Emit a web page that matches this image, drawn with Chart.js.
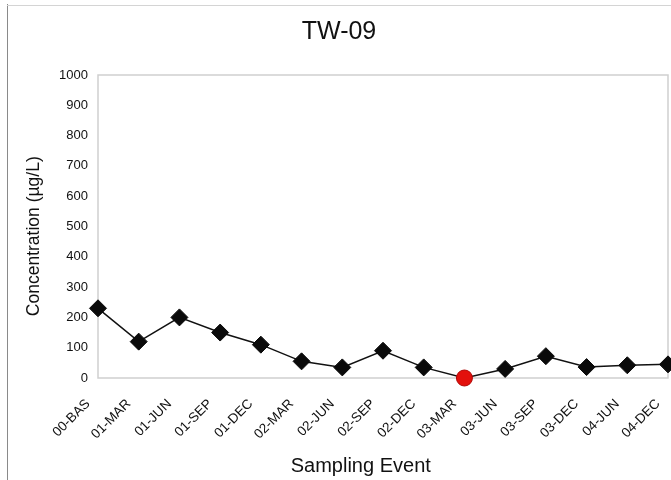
<!DOCTYPE html>
<html>
<head>
<meta charset="utf-8">
<script src="https://cdn.jsdelivr.net/npm/chart.js@4.4.1/dist/chart.umd.min.js"></script>
<style>
  html, body { margin: 0; padding: 0; background: #ffffff; }
  canvas { display: block; }
</style>
</head>
<body>
<canvas id="chart" width="671" height="480"></canvas>
<script>
// Sampling events and measured concentrations (µg/L) for well TW-09
const events = ['00-BAS', '01-MAR', '01-JUN', '01-SEP', '01-DEC', '02-MAR', '02-JUN', '02-SEP',
                '02-DEC', '03-MAR', '03-JUN', '03-SEP', '03-DEC', '04-JUN', '04-DEC'];
const concentration = [230, 120, 200, 150, 110, 55, 35, 90, 35, 0, 30, 72, 36, 42, 45];
const yTicks = [0, 100, 200, 300, 400, 500, 600, 700, 800, 900, 1000];
const flaggedEvent = '03-MAR';

const FONT = '"Liberation Sans", Arial, sans-serif';
const isFlagged = ctx => events[ctx.dataIndex] === flaggedEvent;

// Light frame around the figure and the plot area
const framePlugin = {
  id: 'frame',
  beforeDraw(chart) {
    const { ctx } = chart;
    ctx.save();
    ctx.strokeStyle = '#8a8a8a';
    ctx.lineWidth = 1;
    ctx.beginPath();
    ctx.moveTo(7.5, 4);
    ctx.lineTo(7.5, 480);
    ctx.stroke();
    ctx.strokeStyle = '#d4d4d4';
    ctx.beginPath();
    ctx.moveTo(7, 5.5);
    ctx.lineTo(671, 5.5);
    ctx.stroke();
    ctx.restore();
  },
  beforeDatasetsDraw(chart) {
    const { ctx, chartArea: a } = chart;
    ctx.save();
    ctx.strokeStyle = '#cfcfcf';
    ctx.lineWidth = 1.5;
    ctx.strokeRect(a.left, a.top, a.right - a.left, a.bottom - a.top);
    ctx.restore();
  }
};

new Chart(document.getElementById('chart'), {
  type: 'line',
  data: {
    labels: events,
    datasets: [{
      label: 'TW-09',
      data: concentration,
      borderColor: '#111111',
      borderWidth: 1.5,
      tension: 0,
      pointStyle: ctx => isFlagged(ctx) ? 'circle' : 'rectRot',
      pointRadius: ctx => isFlagged(ctx) ? 8 : 8.5,
      pointBackgroundColor: ctx => isFlagged(ctx) ? '#e3100c' : '#0a0a0a',
      pointBorderColor: ctx => isFlagged(ctx) ? '#b00a08' : '#0a0a0a',
      pointBorderWidth: 1,
      clip: false
    }]
  },
  options: {
    responsive: false,
    devicePixelRatio: 1,
    animation: false,
    layout: { autoPadding: false, padding: { left: 10, right: 3, top: 0, bottom: 0 } },
    plugins: {
      legend: { display: false },
      tooltip: { enabled: false },
      title: {
        display: true,
        text: 'TW-09',
        color: '#111111',
        font: { family: FONT, size: 25, weight: 'normal', lineHeight: 1.2 },
        padding: { top: 17, bottom: 28 }
      }
    },
    scales: {
      x: {
        type: 'category',
        offset: false,
        grid: { display: false, drawTicks: false },
        border: { display: false },
        ticks: {
          autoSkip: false,
          minRotation: 45,
          maxRotation: 45,
          padding: 18,
          labelOffset: -10,
          color: '#111111',
          font: { family: FONT, size: 13.5 }
        },
        title: {
          display: true,
          text: 'Sampling Event        ',
          color: '#111111',
          font: { family: FONT, size: 20, lineHeight: 1.2 },
          padding: { top: 0, bottom: 2 }
        },
        afterFit(scale) {
          scale.height = 102;
          scale.paddingLeft = 0;
          scale.paddingRight = 0;
        }
      },
      y: {
        min: 0,
        max: 1000,
        grid: { display: false, drawTicks: false },
        border: { display: false },
        afterBuildTicks(scale) { scale.ticks = yTicks.map(v => ({ value: v })); },
        ticks: {
          padding: 10,
          color: '#111111',
          font: { family: FONT, size: 13 },
          callback: v => String(v)
        },
        title: {
          display: true,
          text: 'Concentration (µg/L)    ',
          color: '#111111',
          font: { family: FONT, size: 17.5, lineHeight: 1.2 },
          padding: { top: 14, bottom: 0 }
        },
        afterFit(scale) { scale.width = 88; }
      }
    }
  },
  plugins: [framePlugin]
});
</script>
</body>
</html>
